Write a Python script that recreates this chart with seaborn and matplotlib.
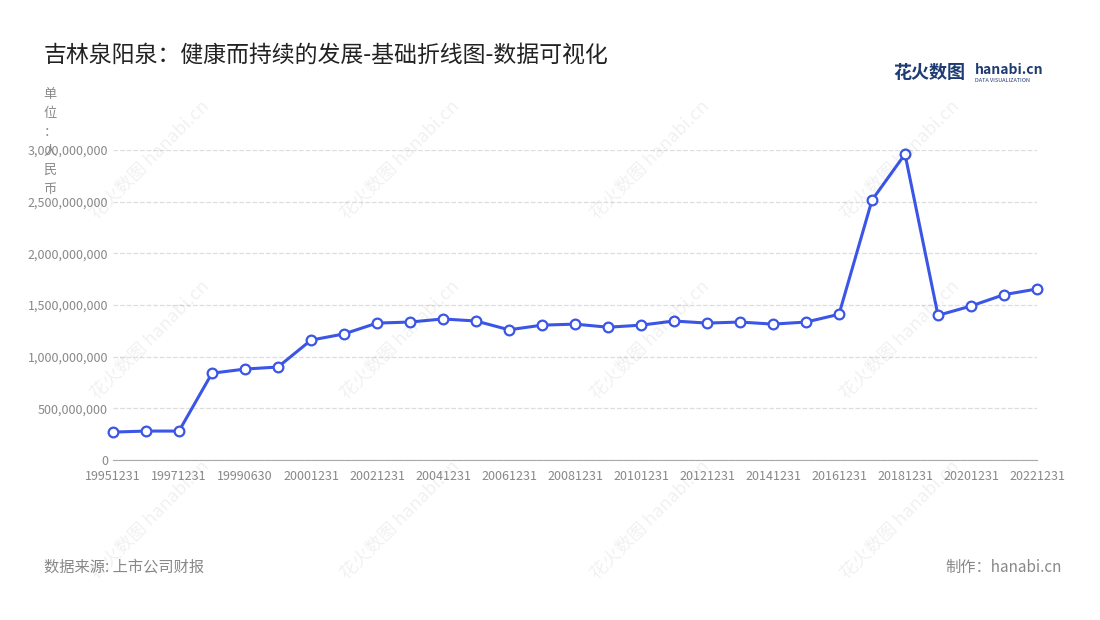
import matplotlib
matplotlib.use("Agg")
import matplotlib.pyplot as plt
import seaborn as sns
import pandas as pd

dates = ["19951231", "19961231", "19971231", "19981231", "19990630", "19991231",
         "20001231", "20011231", "20021231", "20031231", "20041231", "20051231",
         "20061231", "20071231", "20081231", "20091231", "20101231", "20111231",
         "20121231", "20131231", "20141231", "20151231", "20161231", "20171231",
         "20181231", "20191231", "20201231", "20211231", "20221231"]
values = [0.27, 0.28, 0.28, 0.84, 0.88, 0.90, 1.16, 1.22, 1.325, 1.335, 1.365, 1.345,
          1.26, 1.305, 1.315, 1.285, 1.305, 1.345, 1.325, 1.335, 1.315, 1.335, 1.41,
          2.515, 2.96, 1.40, 1.49, 1.60, 1.655]
values = [v * 1e9 for v in values]

df = pd.DataFrame({"x": range(len(dates)), "y": values})

sns.set_style("white")
plt.rcParams["font.family"] = ["Noto Sans CJK SC", "DejaVu Sans"]

fig = plt.figure(figsize=(11, 6.2), dpi=100)
ax = fig.add_axes([113 / 1100, 1 - 460 / 620, (1037 - 113) / 1100, 310 / 620])

sns.lineplot(data=df, x="x", y="y", ax=ax, color="#3b55e6", linewidth=2.2,
             marker="o", markersize=7, markerfacecolor="white",
             markeredgecolor="#3b55e6", markeredgewidth=1.6, zorder=5, clip_on=False)

ax.set_xlim(0, len(dates) - 1)
ax.set_ylim(0, 3e9)
ax.set_xticks(range(0, len(dates), 2))
ax.set_xticklabels(dates[::2])
ax.set_xticks(range(len(dates)), minor=True)
ax.set_yticks([i * 5e8 for i in range(7)])
ax.set_yticklabels([f"{int(i * 5e8):,}" for i in range(7)])
ax.tick_params(axis="both", labelsize=9, colors="#888888", length=0)
ax.tick_params(axis="x", which="both", length=4, color="#aaaaaa")
ax.set_xlabel("")
ax.set_ylabel("")
ax.grid(axis="y", linestyle="--", color="#dddddd", linewidth=0.9)
for s in ["top", "right", "left"]:
    ax.spines[s].set_visible(False)
ax.spines["bottom"].set_color("#aaaaaa")

fig.text(44 / 1100, 1 - 55 / 620, "吉林泉阳泉：健康而持续的发展-基础折线图-数据可视化",
         fontsize=16.5, color="#222222", va="center")
fig.text(50 / 1100, 1 - 88 / 620, "\n".join("单位：人民币"), fontsize=9.5,
         color="#888888", va="top", ha="center", linespacing=1.6)
fig.text(44 / 1100, 1 - 567 / 620, "数据来源: 上市公司财报", fontsize=11,
         color="#888888", va="center")
fig.text(1062 / 1100, 1 - 567 / 620, "制作：hanabi.cn", fontsize=11,
         color="#888888", va="center", ha="right")
fig.text(893 / 1100, 1 - 72 / 620, "花火数图", fontsize=13, color="#1f3b73",
         va="center", fontweight="bold")
fig.text(975 / 1100, 1 - 70 / 620, "hanabi.cn", fontsize=10, color="#1f3b73",
         va="center", fontweight="bold")
fig.text(975 / 1100, 1 - 80 / 620, "DATA VISUALIZATION", fontsize=4, color="#1f3b73",
         va="center")

for wx in [150, 400, 650, 900]:
    for wy in [160, 340, 520]:
        fig.text(wx / 1100, 1 - wy / 620, "花火数图 hanabi.cn", fontsize=13,
                 color="#000000", alpha=0.06, rotation=45, ha="center", va="center")

fig.savefig("out.png", dpi=100)
